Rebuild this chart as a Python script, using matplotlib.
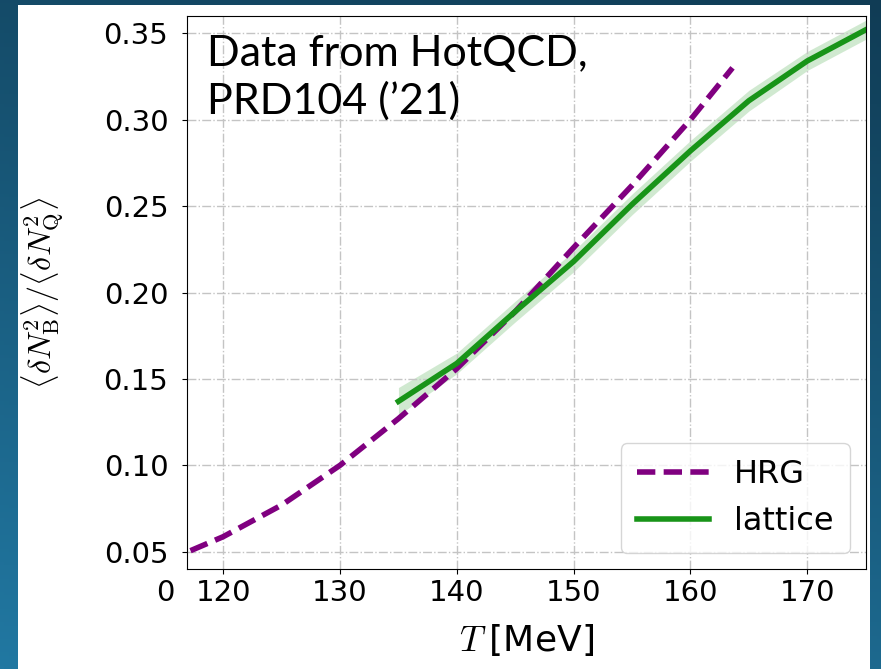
import numpy as np
import matplotlib
matplotlib.use('Agg')
import matplotlib.pyplot as plt
from matplotlib.patches import Rectangle

plt.rcParams['font.family'] = 'DejaVu Sans'
plt.rcParams['mathtext.fontset'] = 'cm'

# HRG curve
T_hrg = [117.2, 120, 125, 130, 135, 140, 145, 150, 155, 160, 163.6]
r_hrg = [0.0506, 0.0587, 0.077, 0.100, 0.127, 0.156, 0.189, 0.226, 0.262, 0.300, 0.330]

# lattice (HotQCD) with error band
T_lat = [135, 140, 145, 150, 155, 160, 165, 170, 175]
r_lat = [0.137, 0.159, 0.189, 0.218, 0.251, 0.282, 0.311, 0.334, 0.352]
e_lat = [0.008, 0.006, 0.006, 0.006, 0.006, 0.006, 0.006, 0.0055, 0.0055]

xticks = [120, 130, 140, 150, 160, 170]
yticks = [0.05, 0.10, 0.15, 0.20, 0.25, 0.30, 0.35]

fig = plt.figure(figsize=(8.81, 6.69), dpi=100)

# slide background: blue gradient + white card
bg = fig.add_axes([0, 0, 1, 1], zorder=-10)
gx, gy = np.meshgrid(np.linspace(0, 1, 200), np.linspace(0, 1, 200))
g = np.clip(0.75 * gy + 0.25 * (1 - gx), 0, 1)
c0 = np.array([0x10, 0x3c, 0x55]) / 255.
c1 = np.array([0x21, 0x78, 0xa2]) / 255.
img = c0[None, None, :] * (1 - g[..., None]) + c1[None, None, :] * g[..., None]
bg.imshow(img, extent=[0, 1, 0, 1], aspect='auto', origin='upper')
bg.add_patch(Rectangle((18/881., 0), (870-18)/881., 1 - 4.7/669., transform=bg.transAxes,
                       facecolor='white', edgecolor='none'))
bg.set_xlim(0, 1)
bg.set_ylim(0, 1)
bg.axis('off')

ax = fig.add_axes([187/881., 1 - 569/669., (865.7-187)/881., (569-16)/669.])

ax.plot(T_hrg, r_hrg, '--', color='purple', lw=4, dashes=(3.3, 1.5), label='HRG')
lo = [r - e for r, e in zip(r_lat, e_lat)]
hi = [r + e for r, e in zip(r_lat, e_lat)]
ax.fill_between(T_lat, lo, hi, color='#189418', alpha=0.2, lw=0)
ax.plot(T_lat, r_lat, '-', color='#189418', lw=4, label='lattice')

ax.set_xlim(116.9, 175)
ax.set_ylim(0.04, 0.36)
ax.set_xticks(xticks)
ax.set_yticks(yticks)
ax.set_yticklabels(['%.2f' % v for v in yticks])
ax.tick_params(labelsize=21)
ax.tick_params(axis='y', pad=10)
ax.grid(True, ls='-.', color='#c4c4c4', lw=1)

ax.set_xlabel(r'$T\;$[MeV]', fontsize=26, labelpad=11)
ax.set_ylabel(r'$\langle \delta N_{\rm B}^2\rangle / \langle \delta N_{\rm Q}^2\rangle$',
              fontsize=23, labelpad=27)

ax.legend(loc='lower right', fontsize=23, handlelength=2.25, borderaxespad=0.5,
          borderpad=0.5)

ax.text(0.029, 0.965, "Data from HotQCD,\nPRD104 (\u201921)", transform=ax.transAxes,
        fontsize=31, family='Lato', va='top', ha='left', linespacing=1.25)

# stray label left of the x axis in the slide
fig.text(165/881., 1 - 593/669., '0', fontsize=21, ha='center', va='center')

fig.savefig('out.png', dpi=100)
